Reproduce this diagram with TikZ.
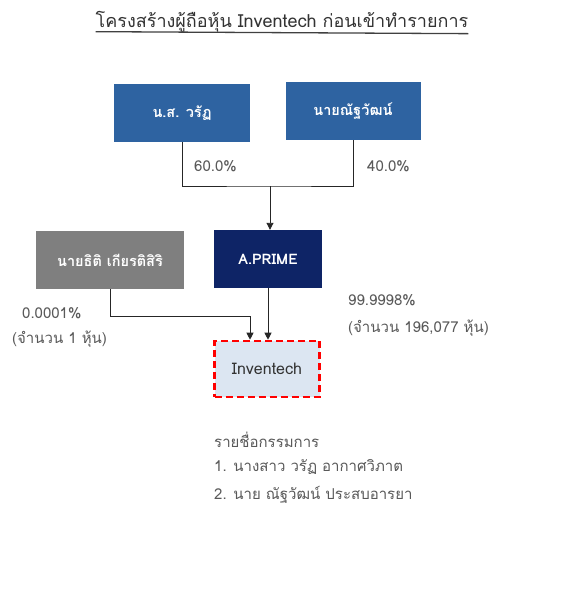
\documentclass[tikz,border=0pt]{standalone}
\usepackage{fontspec}
\setmainfont[Script=Thai]{Loma}
\usetikzlibrary{arrows.meta}
\definecolor{midblue}{HTML}{2E63A1}
\definecolor{navy}{HTML}{0E2466}
\definecolor{boxgray}{HTML}{7F7F7F}
\definecolor{lightfill}{HTML}{DCE6F2}
\definecolor{labelgray}{HTML}{595959}
\definecolor{linec}{HTML}{262626}
\tikzset{
  ownerbox/.style={minimum width=#1, minimum height=58pt, inner sep=0pt, text=white, font=\bfseries\fontsize{14.5}{17}\selectfont},
  pct/.style={text=labelgray, font=\fontsize{15}{18}\selectfont, inner sep=0pt, anchor=west},
  conn/.style={linec, line width=0.9pt},
  arr/.style={conn, -{Triangle[length=7pt,width=7pt]}},
}
\begin{document}
\begin{tikzpicture}[x=1pt,y=-1pt]
\useasboundingbox (0,0) rectangle (568,606);
\fill[white] (0,0) rectangle (568,606);
\node[font=\fontsize{18}{21}\selectfont, text=black!80, inner sep=0pt] (title) at (282,22) {โครงสร้างผู้ถือหุ้น Inventech ก่อนเข้าทำรายการ};
\draw[black!75, line width=1.3pt] (title.south west) ++(0,-1) -- ([yshift=-1pt]title.south east);
\node[ownerbox=136pt, fill=midblue] (a) at (182,113) {น.ส. วรัฏ};
\node[ownerbox=135pt, fill=midblue] (b) at (353,111) {นายณัฐวัฒน์};
\node[ownerbox=148pt, fill=boxgray] (c) at (110,260) {นายธิติ เกียรติสิริ};
\node[ownerbox=108pt, fill=navy] (d) at (268,259) {A.PRIME};
\node[minimum width=105pt, minimum height=56pt, inner sep=0pt, fill=lightfill, draw=red, line width=2.6pt, dash pattern=on 7pt off 4pt, text=black!80, font=\fontsize{16}{19}\selectfont] (e) at (267,369) {Inventech};
\coordinate (j) at (270,186);
\draw[conn] (a.south) |- (j) -| (b.south);
\draw[arr] (j) -- (d.north -| j);
\draw[arr] (c.south) |- (250,316) -- (e.north -| 250,0);
\draw[arr] (d.south) -- (e.north -| d.south);
\node[pct] (p1) at (194,166) {60.0\%};
\node[pct] (p2) at (367,166) {40.0\%};
\node[pct] (p3) at (22,313) {0.0001\%};
\node[pct] (p4) at (12,339) {(จำนวน 1 หุ้น)};
\node[pct] (p5) at (348,300) {99.9998\%};
\node[pct] (p6) at (348,328) {(จำนวน 196,077 หุ้น)};
\node[pct] (t1) at (214,440) {รายชื่อกรรมการ};
\node[pct] (t2) at (214,467) {1. นางสาว วรัฏ อากาศวิภาต};
\node[pct] (t3) at (214,495) {2. นาย ณัฐวัฒน์ ประสบอารยา};
\end{tikzpicture}
\end{document}
